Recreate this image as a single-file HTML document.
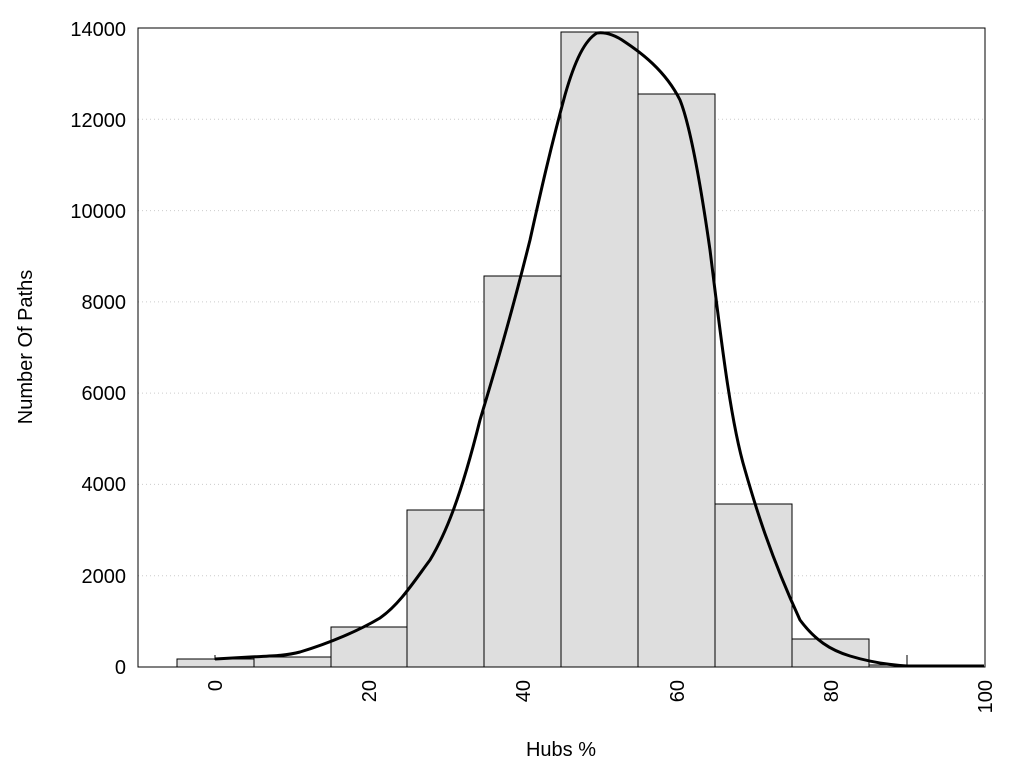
<!DOCTYPE html>
<html><head><style>body{margin:0;background:#fff}svg{display:block}text{font-family:"Liberation Sans",sans-serif;font-size:20px;fill:#000}</style></head>
<body>
<svg width="1024" height="768" viewBox="0 0 1024 768">
<g stroke="#ccc" stroke-dasharray="1,3" stroke-width="1">
<line x1="138" x2="985" y1="575.7" y2="575.7"/><line x1="138" x2="985" y1="484.4" y2="484.4"/><line x1="138" x2="985" y1="393.1" y2="393.1"/><line x1="138" x2="985" y1="301.9" y2="301.9"/><line x1="138" x2="985" y1="210.6" y2="210.6"/><line x1="138" x2="985" y1="119.3" y2="119.3"/>
</g>
<g fill="#dedede" stroke="#000" stroke-width="1">
<rect x="177" y="659" width="77" height="8"/>
<rect x="254" y="657" width="77" height="10"/>
<rect x="331" y="627" width="76" height="40"/>
<rect x="407" y="510" width="77" height="157"/>
<rect x="484" y="276" width="77" height="391"/>
<rect x="561" y="32" width="77" height="635"/>
<rect x="638" y="94" width="77" height="573"/>
<rect x="715" y="504" width="77" height="163"/>
<rect x="792" y="639" width="77" height="28"/>
<rect x="869" y="665" width="38" height="2"/>
</g>
<line x1="215" y1="655" x2="215" y2="660" stroke="#000"/>
<line x1="907" y1="655" x2="907" y2="667" stroke="#000"/>
<path d="M215,659 L250,657 C270,656 285,656 300,652 C330,643 360,630 380,618 C400,604 415,580 430,560 C445,535 460,500 480,420 C495,370 510,320 530,240 C540,195 550,150 565,95 C575,60 585,40 597,33 C605,32 615,35 625,42 C640,52 665,70 680,100 C690,125 700,180 710,250 C720,330 730,420 745,470 C755,505 770,555 800,620 C815,640 830,650 850,656 C870,662 890,665 907,666 L984,666" fill="none" stroke="#000" stroke-width="3"/>
<rect x="138" y="28" width="847" height="639" fill="none" stroke="#000" stroke-width="1"/>
<g text-anchor="end">
<text x="126" y="674">0</text><text x="126" y="583">2000</text><text x="126" y="491">4000</text><text x="126" y="400">6000</text><text x="126" y="309">8000</text><text x="126" y="218">10000</text><text x="126" y="127">12000</text><text x="126" y="36">14000</text>
</g>
<g text-anchor="end">
<text transform="translate(222,680) rotate(-90)">0</text>
<text transform="translate(376,680) rotate(-90)">20</text>
<text transform="translate(530,680) rotate(-90)">40</text>
<text transform="translate(684,680) rotate(-90)">60</text>
<text transform="translate(838,680) rotate(-90)">80</text>
<text transform="translate(992,680) rotate(-90)">100</text>
</g>
<text x="561" y="756" text-anchor="middle">Hubs %</text>
<text transform="translate(32,347) rotate(-90)" text-anchor="middle">Number Of Paths</text>
</svg>
</body></html>
